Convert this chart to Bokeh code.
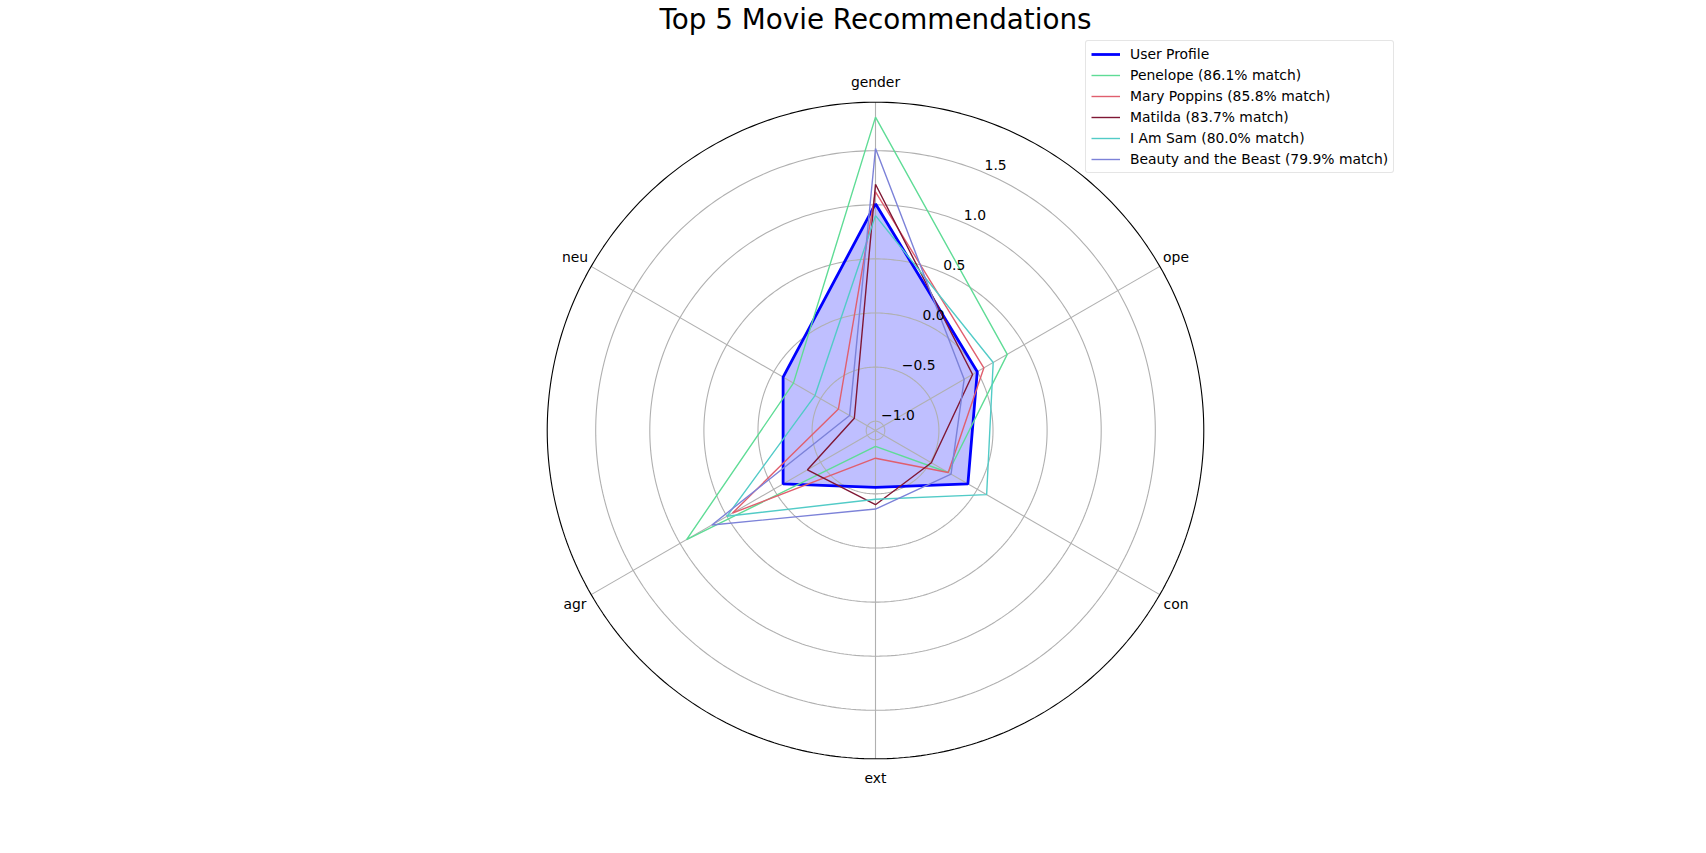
import numpy as np
from bokeh.plotting import figure
from bokeh.models import Range1d, Legend, LegendItem, Label
from bokeh.core.properties import value
from bokeh.embed import file_html
from bokeh.resources import INLINE

# ---------------- data ----------------
categories = ["gender", "ope", "con", "ext", "agr", "neu"]
user_profile = [1.01, 0.0, -0.10, -0.56, -0.10, -0.10]
penelope = [1.81, 0.32, -0.31, -0.94, 0.93, -0.21]
mary_poppins = [1.12, 0.07, -0.31, -0.83, 0.44, -0.69]
matilda = [1.19, -0.05, -0.49, -0.40, -0.36, -0.86]
i_am_sam = [0.90, 0.17, 0.10, -0.45, 0.50, -0.44]
beauty_beast = [1.52, -0.14, -0.28, -0.36, 0.66, -0.81]
movie_names = ["Penelope (86.1% match)", "Mary Poppins (85.8% match)",
               "Matilda (83.7% match)", "I Am Sam (80.0% match)",
               "Beauty and the Beast (79.9% match)"]
movie_values = [penelope, mary_poppins, matilda, i_am_sam, beauty_beast]
movie_colors = ["#5fdc96", "#e05f6e", "#7f1734", "#52cbc7", "#7c82d8"]
r_ticks = [-1.0, -0.5, 0.0, 0.5, 1.0, 1.5]
r_tick_labels = ["\u22121.0", "\u22120.5", "0.0", "0.5", "1.0", "1.5"]
R_MIN, R_MAX = -1.086, 1.948

# ---------------- geometry ----------------
W, H = 1706, 853
CX, CY = 875, 430          # centre in screen px (from top)
S = 108.2                  # px per unit of value
FONT = "DejaVu Sans"

n = len(categories)
angles = np.arange(n) * 2 * np.pi / n   # clockwise from north


def to_xy(vals, ang):
    r = (np.asarray(vals, float) - R_MIN) * S
    return r * np.sin(ang), r * np.cos(ang)


p = figure(width=W, height=H, output_backend="svg", toolbar_location=None,
           x_range=Range1d(-CX, W - CX), y_range=Range1d(-(H - CY), CY),
           x_axis_location=None, y_axis_location=None, min_border=0,
           outline_line_color=None, background_fill_color="white")
p.grid.visible = False

# user profile fill (below grid)
closed_ang = np.append(angles, angles[0])
ux, uy = to_xy(user_profile + [user_profile[0]], closed_ang)
p.patch(ux, uy, fill_color="blue", fill_alpha=0.25, line_color=None)

# grid circles
t = np.linspace(0, 2 * np.pi, 361)
for rv in r_ticks:
    gx, gy = to_xy(np.full_like(t, rv), t)
    p.line(gx, gy, line_color="#b0b0b0", line_width=1.1)
# spokes
for a in angles:
    sx, sy = to_xy([R_MIN, R_MAX], np.array([a, a]))
    p.line(sx, sy, line_color="#b0b0b0", line_width=1.1)
# outer circle
ox, oy = to_xy(np.full_like(t, R_MAX), t)
p.line(ox, oy, line_color="black", line_width=1.1)

# series
items = []
r_user = p.line(ux, uy, line_color="blue", line_width=2.8)
items.append(LegendItem(label="User Profile", renderers=[r_user]))
for name, vals, col in zip(movie_names, movie_values, movie_colors):
    mx, my = to_xy(vals + [vals[0]], closed_ang)
    r = p.line(mx, my, line_color=col, line_width=1.4)
    items.append(LegendItem(label=name, renderers=[r]))

# radial tick labels at 22.5 deg
a_lab = np.deg2rad(22.5)
tx, ty = to_xy(r_ticks, np.full(len(r_ticks), a_lab))
p.text(x=list(tx + 2), y=list(ty + 2), text=r_tick_labels, text_align="left",
       text_baseline="bottom", text_font=value(FONT), text_font_size="13.9px",
       text_color="black")

# category labels
LAB_R = 347
cx_ = LAB_R * np.sin(angles)
cy_ = LAB_R * np.cos(angles)
cy_[0] += 2
p.text(x=list(cx_), y=list(cy_), text=categories, text_align="center",
       text_baseline="middle", text_font=value(FONT), text_font_size="13.9px",
       text_color="black")

# title
p.add_layout(Label(x=0, y=CY - 18.5, text="Top 5 Movie Recommendations",
                   text_align="center", text_baseline="middle",
                   text_font=FONT, text_font_size="27.8px", text_color="black"))

legend = Legend(items=items, location=(1085, H - 173))
legend.label_text_font = FONT
legend.label_text_font_size = "13.9px"
legend.label_text_color = "black"
legend.label_height = 14
legend.glyph_height = 14
legend.glyph_width = 29
legend.spacing = 5
legend.padding = 5
legend.label_standoff = 10
legend.margin = 0
legend.border_line_color = "#cccccc"
legend.border_line_width = 1
legend.border_radius = 3
legend.background_fill_alpha = 0.8
p.add_layout(legend)

open("out.html", "w").write(file_html(p, INLINE))
